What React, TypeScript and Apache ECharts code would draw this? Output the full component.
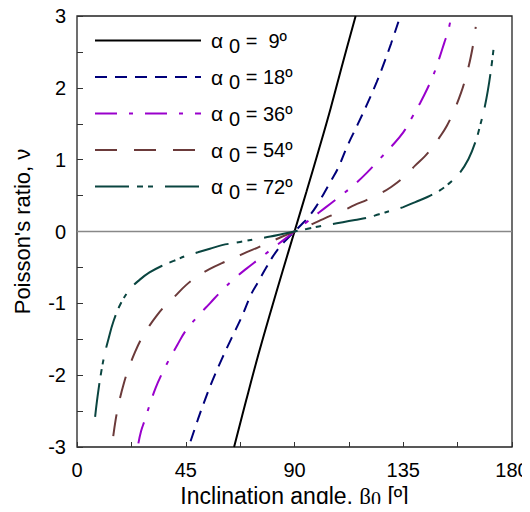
import React, { useEffect, useRef } from "react";
import * as echarts from "echarts";

const xTicks = [0, 45, 90, 135, 180];
const yTicks = [-3, -2, -1, 0, 1, 2, 3];
const alphas = [9, 18, 36, 54, 72];

const beta9 = [65, 70, 75, 80, 85, 90, 95, 100, 105, 110, 115.3];
const nu9 = [-3.0, -2.35, -1.72, -1.13, -0.56, 0, 0.56, 1.13, 1.72, 2.35, 3.0];

const beta18 = [47, 50, 53, 56, 60, 64, 68, 72, 75, 78, 81, 84, 87, 90, 93, 96, 99, 102, 105, 108, 112, 116, 120, 124, 127, 130, 133];
const nu18 = [-2.92, -2.62, -2.34, -2.08, -1.77, -1.48, -1.2, -0.88, -0.7, -0.52, -0.35, -0.21, -0.1, 0, 0.1, 0.21, 0.35, 0.52, 0.7, 0.88, 1.2, 1.48, 1.77, 2.08, 2.34, 2.62, 2.92];

const beta36 = [25.4, 26.5, 28, 30, 32.5, 35, 38, 41.5, 45, 50, 55, 60, 65, 70, 75, 80, 85, 90, 95, 100, 105, 110, 115, 120, 125, 130, 135, 138.5, 142, 145, 147.5, 150, 152, 153.5, 154.6];
const nu36 = [-2.95, -2.78, -2.63, -2.42, -2.18, -1.99, -1.79, -1.58, -1.38, -1.18, -1.0, -0.82, -0.66, -0.52, -0.39, -0.26, -0.13, 0, 0.13, 0.26, 0.39, 0.52, 0.66, 0.82, 1.0, 1.18, 1.38, 1.58, 1.79, 1.99, 2.18, 2.42, 2.63, 2.78, 2.95];

const beta54 = [15, 16, 17, 18, 19, 21, 24, 27, 30, 33, 36, 40, 45, 50, 55, 60, 65, 70, 75, 80, 85, 90, 95, 100, 105, 110, 115, 120, 125, 130, 135, 140, 144, 147, 150, 153, 156, 159, 161, 162, 163, 164, 165];
const nu54 = [-2.85, -2.62, -2.44, -2.29, -2.16, -1.94, -1.68, -1.47, -1.31, -1.17, -1.05, -0.92, -0.75, -0.62, -0.52, -0.44, -0.37, -0.29, -0.22, -0.145, -0.07, 0, 0.07, 0.145, 0.22, 0.29, 0.37, 0.44, 0.52, 0.62, 0.75, 0.92, 1.05, 1.17, 1.31, 1.47, 1.68, 1.94, 2.16, 2.29, 2.44, 2.62, 2.85];

const beta72 = [7.5, 8.5, 10, 11.5, 13, 15, 18, 22, 26, 30, 35, 40, 45, 50, 55, 60, 65, 70, 75, 80, 85, 90, 95, 100, 105, 110, 115, 120, 125, 130, 135, 140, 145, 150, 154, 158, 162, 165, 167, 168.5, 170, 171.5, 172.5];
const nu72 = [-2.58, -2.3, -1.96, -1.7, -1.5, -1.26, -1.01, -0.8, -0.67, -0.57, -0.48, -0.41, -0.34, -0.29, -0.24, -0.19, -0.16, -0.13, -0.1, -0.07, -0.035, 0, 0.035, 0.07, 0.1, 0.13, 0.16, 0.19, 0.24, 0.29, 0.34, 0.41, 0.48, 0.57, 0.67, 0.8, 1.01, 1.26, 1.5, 1.7, 1.96, 2.3, 2.58];

const zeroLineX = [0, 180];
const zeroLineY = [0, 0];

const curves = [
  { b: beta9, n: nu9, color: "#000000", dash: "solid" as any },
  { b: beta18, n: nu18, color: "#00007a", dash: [12, 8] },
  { b: beta36, n: nu36, color: "#9900cc", dash: [22, 12, 4, 12] },
  { b: beta54, n: nu54, color: "#6b3a3a", dash: [22, 17] },
  { b: beta72, n: nu72, color: "#0a4540", dash: [34, 8, 6, 5, 5, 12] },
];

const FONT = "Liberation Sans, Arial, sans-serif";
const SERIF = "Liberation Serif, Times New Roman, serif";

export default function App() {
  const ref = useRef<HTMLDivElement>(null);
  useEffect(() => {
    if (!ref.current) return;
    const chart = echarts.init(ref.current, undefined, { renderer: "svg" });
    const names = alphas.map((a) => `α0 = ${a}º`);
    const series: any[] = [
      {
        type: "line",
        name: "zero",
        data: zeroLineX.map((x, i) => [x, zeroLineY[i]]),
        symbol: "none",
        silent: true,
        lineStyle: { color: "#888888", width: 1.5 },
        z: 1,
      },
    ];
    curves.forEach((c, k) => {
      series.push({
        type: "line",
        name: names[k],
        data: c.b.map((x, i) => [x, c.n[i]]),
        symbol: "none",
        smooth: 0.4,
        clip: true,
        lineStyle: { color: c.color, width: 2, type: c.dash },
        itemStyle: { color: c.color },
        z: 3,
      });
    });
    chart.setOption({
      animation: false,
      backgroundColor: "#ffffff",
      grid: {
        left: 77,
        right: 18,
        top: 16,
        bottom: 65,
        containLabel: false,
        outerBoundsMode: "none",
        show: true,
        borderColor: "#222",
        borderWidth: 1.3,
        backgroundColor: "transparent",
      },
      legend: {
        data: names,
        orient: "vertical",
        left: 94,
        top: 30,
        padding: 0,
        itemWidth: 106,
        itemHeight: 14,
        itemGap: 11,
        itemStyle: { opacity: 0 },
        formatter: (name: string) => {
          const a = name.split("=")[1].trim();
          const pad = a.length < 3 ? " " : "";
          return `{g|α }{s|0}{t| = ${pad}${a}}`;
        },
        textStyle: {
          fontFamily: FONT,
          fontSize: 20,
          color: "#000",
          rich: {
            g: { fontFamily: FONT, fontSize: 21, color: "#000", lineHeight: 30, padding: [0, 0, 0, 5] },
            s: { fontFamily: FONT, fontSize: 20, color: "#000", lineHeight: 20, verticalAlign: "bottom" },
            t: { fontFamily: FONT, fontSize: 20, color: "#000", lineHeight: 30 },
          },
        },
      },
      xAxis: {
        type: "value",
        min: 0,
        max: 180,
        interval: 45,
        name: "{a|Inclination angle, }{b|β}{c|0}{a| [º]}",
        nameLocation: "middle",
        nameGap: 32,
        nameTextStyle: {
          fontFamily: FONT,
          fontSize: 23,
          color: "#000",
          rich: {
            a: { fontFamily: FONT, fontSize: 23, color: "#000", lineHeight: 26 },
            b: { fontFamily: SERIF, fontSize: 23, color: "#000", lineHeight: 26 },
            c: { fontFamily: SERIF, fontSize: 20, color: "#000", lineHeight: 20, verticalAlign: "bottom" },
          },
        },
        axisLine: { show: false, onZero: false },
        axisTick: { show: true, inside: true, length: 5, lineStyle: { color: "#333", width: 1 } },
        minorTick: { show: true, splitNumber: 2, length: 5, lineStyle: { color: "#333", width: 1 } },
        splitLine: { show: false },
        axisLabel: { fontFamily: FONT, fontSize: 20, color: "#000", margin: 13 },
        data: xTicks,
      },
      yAxis: {
        type: "value",
        min: yTicks[0],
        max: yTicks[yTicks.length - 1],
        interval: 1,
        name: "Poisson's ratio, ν",
        nameLocation: "middle",
        nameGap: 44,
        nameTextStyle: { fontFamily: FONT, fontSize: 22, color: "#000" },
        axisLine: { show: false, onZero: false },
        axisTick: { show: true, inside: true, length: 6, lineStyle: { color: "#333", width: 1 } },
        minorTick: { show: true, splitNumber: 2, length: 6, lineStyle: { color: "#333", width: 1 } },
        splitLine: { show: false },
        axisLabel: { fontFamily: FONT, fontSize: 20, color: "#000", margin: 11 },
      },
      series,
    });
    return () => chart.dispose();
  }, []);
  return <div ref={ref} style={{ width: 530, height: 512, margin: -8 }} />;
}
